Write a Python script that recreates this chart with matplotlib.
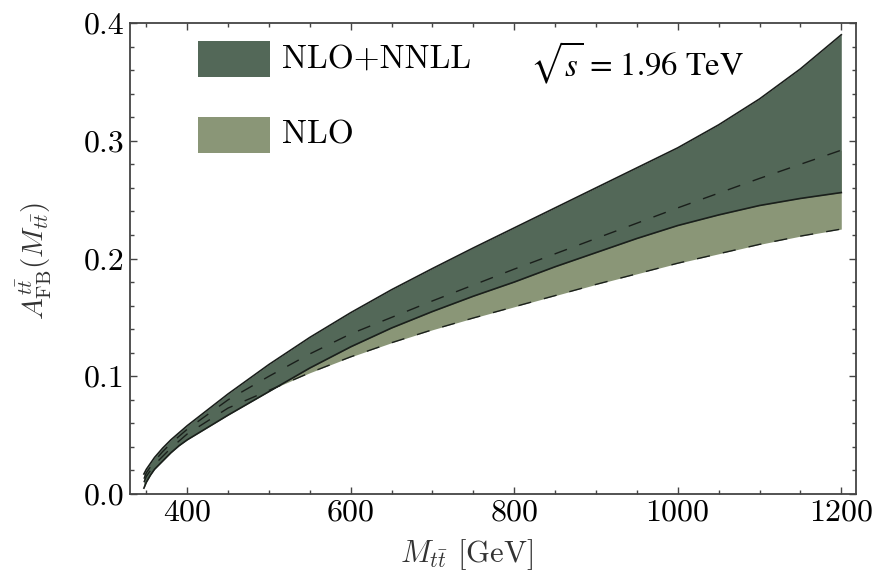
import matplotlib
matplotlib.use("Agg")
import matplotlib.pyplot as plt
from matplotlib.patches import Rectangle
from matplotlib.ticker import MultipleLocator, FormatStrFormatter

plt.rcParams['font.family'] = 'serif'
plt.rcParams['font.serif'] = ['cmr10']
plt.rcParams['mathtext.fontset'] = 'cm'
plt.rcParams['axes.formatter.use_mathtext'] = True

# ---- data ----
mass = [347, 350, 355, 360, 370, 380, 390, 400, 450, 500, 550, 600, 650, 700, 750,
        800, 850, 900, 950, 1000, 1050, 1100, 1150, 1200]
nnll_upper = [0.017, 0.021, 0.026, 0.031, 0.039, 0.046, 0.052, 0.058, 0.085, 0.110, 0.133,
              0.154, 0.1735, 0.1915, 0.209, 0.226, 0.243, 0.260, 0.277, 0.294, 0.3135,
              0.3355, 0.361, 0.390]
nnll_lower = [0.005, 0.010, 0.016, 0.021, 0.028, 0.035, 0.041, 0.046, 0.067, 0.087, 0.107,
              0.125, 0.141, 0.155, 0.168, 0.180, 0.193, 0.205, 0.217, 0.228, 0.237,
              0.245, 0.251, 0.256]
nlo_upper = [0.013, 0.018, 0.023, 0.028, 0.036, 0.043, 0.049, 0.055, 0.080, 0.100, 0.119,
             0.136, 0.150, 0.164, 0.1775, 0.191, 0.204, 0.217, 0.230, 0.243, 0.2555,
             0.268, 0.280, 0.292]
nlo_lower = [0.010, 0.015, 0.020, 0.025, 0.032, 0.039, 0.045, 0.051, 0.073, 0.088, 0.103,
             0.1165, 0.1285, 0.1395, 0.1495, 0.159, 0.1685, 0.178, 0.187, 0.196, 0.204,
             0.212, 0.219, 0.225]
legend_labels = ["NLO+NNLL", "NLO"]
xticks = [400, 600, 800, 1000, 1200]
yticks = [0.0, 0.1, 0.2, 0.3, 0.4]

dark = '#536858'
light = '#8A9677'
spine_c = '#444444'

fig = plt.figure(figsize=(8.79, 5.77), dpi=100)
ax = fig.add_axes([130/879, 1-494/577, 726/879, 471/577])

ax.fill_between(mass, nlo_lower, nlo_upper, color=light, lw=0, zorder=1)
ax.fill_between(mass, nnll_lower, nnll_upper, color=dark, lw=0, zorder=2)
ax.plot(mass, nnll_upper, color='#1a1f1b', lw=1.2, zorder=4)
ax.plot(mass, nnll_lower, color='#1a1f1b', lw=1.2, zorder=4)
ax.plot(mass, nlo_upper, color='#1a1f1b', lw=1.0, dashes=(9.5, 9.5), zorder=3)
ax.plot(mass, nlo_lower, color='#1a1f1b', lw=1.0, dashes=(9.5, 9.5), zorder=3)

ax.set_xlim(330, 1218)
ax.set_ylim(0, 0.4)
ax.set_xticks(xticks)
ax.set_yticks(yticks)
ax.xaxis.set_minor_locator(MultipleLocator(50))
ax.yaxis.set_minor_locator(MultipleLocator(0.02))
ax.yaxis.set_major_formatter(FormatStrFormatter('%.1f'))
ax.tick_params(which='both', direction='in', top=True, right=True, color=spine_c,
               width=1.0, labelsize=23, pad=4)
ax.tick_params(which='major', length=5)
ax.tick_params(which='minor', length=3)
for s in ax.spines.values():
    s.set_color(spine_c)
    s.set_linewidth(1.3)

ax.text(-0.131, 0.495, r'$A_{\mathrm{FB}}^{t\bar{t}}(M_{t\bar{t}})$', transform=ax.transAxes,
        rotation=90, ha='center', va='center', fontsize=21, color='#333333')
ax.text(0.463, -0.1295, r'$M_{t\bar{t}}$ [GeV]', transform=ax.transAxes,
        ha='center', va='center', fontsize=22, color='#333333')

# legend
ax.add_patch(Rectangle((0.0937, 0.8854), 0.0992, 0.0764, transform=ax.transAxes,
                       color=dark, lw=0, zorder=5))
ax.add_patch(Rectangle((0.0937, 0.7240), 0.0992, 0.0764, transform=ax.transAxes,
                       color=light, lw=0, zorder=5))
ax.text(0.2094, 0.9236, legend_labels[0], transform=ax.transAxes, ha='left', va='center',
        fontsize=24)
ax.text(0.2094, 0.7622, legend_labels[1], transform=ax.transAxes, ha='left', va='center',
        fontsize=24)
ax.text(0.551, 0.915, r'$\sqrt{s}$ = 1.96 TeV', transform=ax.transAxes, ha='left', va='center',
        fontsize=23.5, family='STIXGeneral', math_fontfamily='stix')

fig.savefig('out.png', dpi=100)
